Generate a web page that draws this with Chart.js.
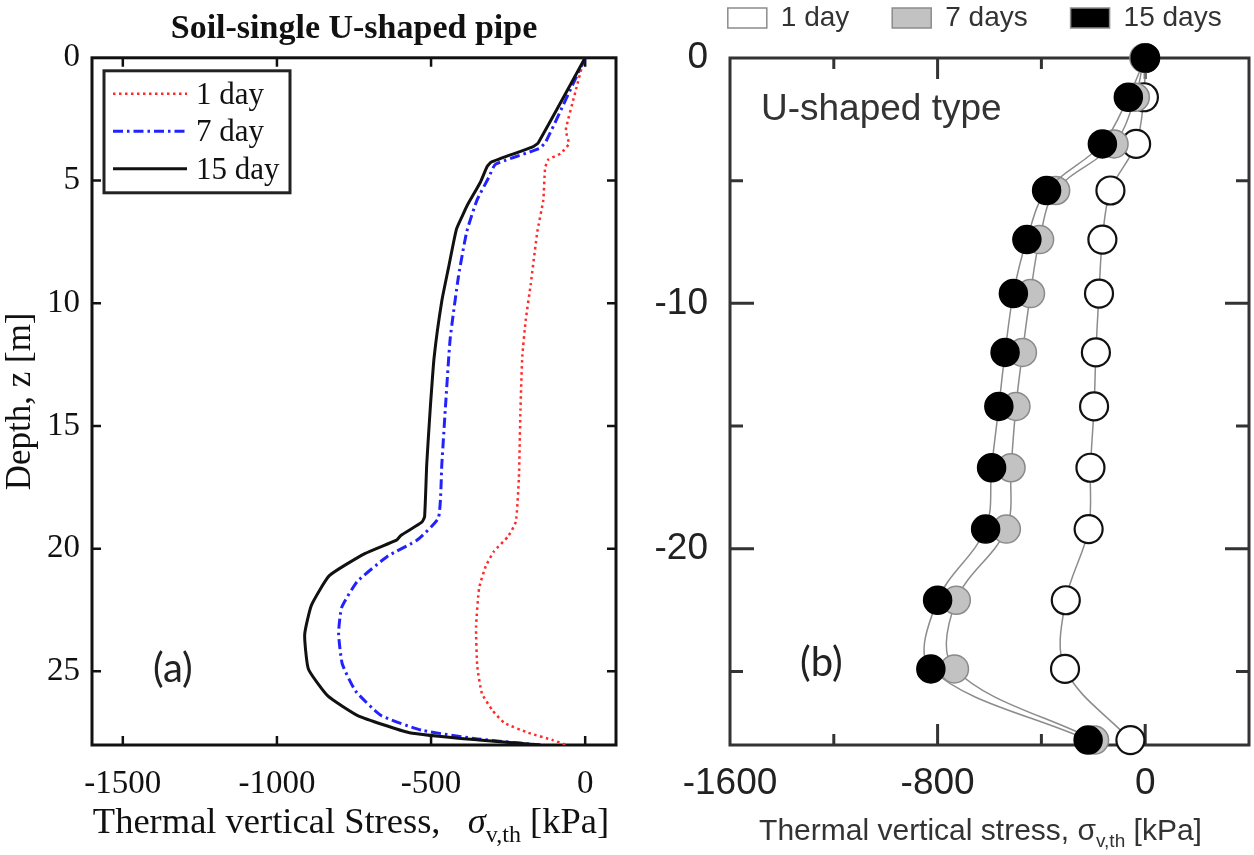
<!DOCTYPE html>
<html>
<head>
<meta charset="utf-8">
<script src="https://cdn.jsdelivr.net/npm/chart.js@4.4.1/dist/chart.umd.min.js"></script>
<style>
  html, body { margin: 0; padding: 0; background: #fff; }
  #wrapA { position: absolute; left: 0; top: 0; width: 640px; height: 855px; }
  #wrapB { position: absolute; left: 640px; top: 0; width: 614px; height: 855px; }
</style>
</head>
<body>
<div id="wrapA"><canvas id="chartA" width="640" height="855"></canvas></div>
<div id="wrapB"><canvas id="chartB" width="614" height="855"></canvas></div>
<script>
// panel (a): simulated profiles, depth [m] / stress [kPa]
const depth1A = [0, 1.4, 2.95, 3.5, 3.9, 4.15, 4.5, 5.8, 7.07, 9.26, 10.7, 12.17, 14.36, 17.1, 18.9, 19.5, 20.1, 20.7, 21.6, 23.2, 24.8, 25.9, 26.6, 27.1, 27.5, 27.8, 28.0];
const stress1A = [-3, -32, -63, -53, -80, -120, -130, -136, -155, -177, -193, -204, -210, -215, -225, -250, -295, -322, -344, -354, -350, -335, -300, -262, -185, -105, -62];
const depth7A = [0, 3.43, 3.7, 4.34, 4.88, 5.8, 7.07, 8.9, 11.45, 14.36, 16.55, 18.74, 19.65, 20.3, 21.35, 22.4, 23.45, 24.7, 25.8, 26.8, 27.4, 27.75, 28.0];
const stress7A = [0, -128, -150, -291, -313, -351, -384, -411, -438, -454, -465, -476, -545, -640, -740, -790, -800, -788, -745, -662, -530, -350, -146];
const depth15A = [0, 3.46, 3.64, 4.25, 4.43, 5.07, 6.0, 6.43, 7.0, 8.53, 9.9, 12.2, 14.36, 16.55, 18.7, 18.92, 19.46, 19.65, 20.2, 21.1, 22.3, 23.5, 24.9, 26.0, 26.8, 27.5, 27.8, 28.0];
const stress15A = [0, -152, -172, -305, -318, -340, -382, -398, -418, -443, -465, -490, -503, -514, -521, -530, -598, -612, -715, -830, -888, -910, -898, -835, -738, -570, -345, -145];
const xTicksA = [-1500, -1000, -500, 0];
const yTicksA = [0, 5, 10, 15, 20, 25];

// panel (b): measured points
const depthB = [0, -1.6, -3.5, -5.4, -7.4, -9.6, -12.0, -14.2, -16.7, -19.2, -22.1, -24.9, -27.8];
const stress1B = [0, -5, -35, -134, -165, -178, -190, -197, -211, -218, -306, -309, -57];
const stress7B = [-5, -38, -120, -345, -407, -442, -473, -498, -517, -535, -728, -735, -195];
const stress15B = [0, -65, -165, -380, -456, -508, -540, -564, -592, -615, -800, -826, -220];
const xTicksB = [-1600, -1200, -800, -400, 0];
const xLabelsB = [-1600, -800, 0];
const yTicksB = [0, -5, -10, -15, -20, -25];
const yLabelsB = [0, -10, -20];

const serif = "'Liberation Serif', 'Times New Roman', serif";
const sans = "'Liberation Sans', Arial, sans-serif";

const pts = (xs, ys) => xs.map((x, i) => ({ x: x, y: ys[i] }));

// frame round the plot area plus inward tick marks on all four sides
const frameTicks = {
  id: 'frameTicks',
  beforeDatasetsDraw(chart, args, o) {
    const { ctx, chartArea: ca, scales } = chart;
    ctx.save();
    ctx.strokeStyle = o.color;
    ctx.lineWidth = o.tickWidth;
    ctx.beginPath();
    scales.x.ticks.forEach(t => {
      const px = scales.x.getPixelForValue(t.value);
      if (px <= ca.left + 2 || px >= ca.right - 2) return;
      const len = t.label === '' ? o.minorX : o.majorX;
      ctx.moveTo(px, ca.bottom); ctx.lineTo(px, ca.bottom - len);
      ctx.moveTo(px, ca.top); ctx.lineTo(px, ca.top + len);
    });
    scales.y.ticks.forEach(t => {
      const py = scales.y.getPixelForValue(t.value);
      if (py <= ca.top + 2 || py >= ca.bottom - 2) return;
      const len = t.label === '' ? o.minorY : o.majorY;
      ctx.moveTo(ca.left, py); ctx.lineTo(ca.left + len, py);
      ctx.moveTo(ca.right, py); ctx.lineTo(ca.right - len, py);
    });
    ctx.stroke();
    ctx.lineWidth = o.frameWidth;
    ctx.strokeRect(ca.left, ca.top, ca.right - ca.left, ca.bottom - ca.top);
    ctx.restore();
  }
};

// free text: panel letters, inner label and axis titles with subscripts
const panelText = {
  id: 'panelText',
  afterDraw(chart, args, o) {
    const { ctx, chartArea: ca } = chart;
    (o.items || []).forEach(item => {
      ctx.save();
      ctx.fillStyle = item.color;
      ctx.textBaseline = 'alphabetic';
      let total = 0;
      item.runs.forEach(r => { ctx.font = r.font; r.w = ctx.measureText(r.t).width; total += r.w; });
      let x = item.center ? (ca.left + ca.right) / 2 + item.dx - total / 2 : ca.left + item.dx;
      const y = ca[item.from] + item.dy;
      item.runs.forEach(r => {
        ctx.font = r.font;
        ctx.fillText(r.t, x, y + (r.sub || 0));
        x += r.w;
      });
      ctx.restore();
    });
  }
};

// boxed legend inside the plot area of panel (a)
const boxLegend = {
  id: 'boxLegend',
  afterDatasetsDraw(chart, args, o) {
    const { ctx, chartArea: ca } = chart;
    const x0 = ca.left + o.left, y0 = ca.top + o.top;
    ctx.save();
    ctx.fillStyle = '#fff';
    ctx.fillRect(x0, y0, o.width, o.height);
    ctx.lineWidth = 3;
    ctx.strokeStyle = '#222';
    ctx.strokeRect(x0, y0, o.width, o.height);
    ctx.font = o.font;
    ctx.textBaseline = 'middle';
    chart.data.datasets.forEach((ds, i) => {
      const y = y0 + o.rowTop + i * o.rowGap;
      ctx.beginPath();
      ctx.setLineDash(ds.borderDash || []);
      ctx.strokeStyle = ds.borderColor;
      ctx.lineWidth = ds.borderWidth;
      ctx.moveTo(x0 + o.sampleX, y);
      ctx.lineTo(x0 + o.sampleX + o.sampleW, y);
      ctx.stroke();
      ctx.setLineDash([]);
      ctx.fillStyle = '#111';
      ctx.fillText(ds.label, x0 + o.textX, y + 2);
    });
    ctx.restore();
  }
};

const chartA = new Chart(document.getElementById('chartA'), {
  type: 'scatter',
  data: {
    datasets: [
      { label: '1 day', data: pts(stress1A, depth1A), borderColor: '#ff2a2a', borderWidth: 2.5, borderDash: [2.5, 3.5], order: 2 },
      { label: '7 day', data: pts(stress7A, depth7A), borderColor: '#2222ff', borderWidth: 3, borderDash: [10, 4, 2.5, 4], order: 1 },
      { label: '15 day', data: pts(stress15A, depth15A), borderColor: '#111', borderWidth: 3, order: 0 }
    ]
  },
  options: {
    responsive: false,
    animation: false,
    devicePixelRatio: 1,
    showLine: true,
    pointRadius: 0,
    tension: 0.15,
    layout: { autoPadding: false, padding: { left: 0, right: 24, top: 0, bottom: 0 } },
    plugins: {
      legend: { display: false },
      tooltip: { enabled: false },
      title: {
        display: true, text: 'Soil-single U-shaped pipe', fullSize: false, color: '#111',
        font: { family: serif, size: 34, weight: 'bold', lineHeight: 1.2 },
        padding: { top: 9, bottom: 8 }
      },
      frameTicks: { color: '#111', tickWidth: 2.5, frameWidth: 3, majorX: 9, minorX: 9, majorY: 9, minorY: 9 },
      boxLegend: {
        left: 12, top: 13, width: 186, height: 122, rowTop: 23, rowGap: 37.5,
        sampleX: 9, sampleW: 74, textX: 92, font: '31px ' + serif
      },
      panelText: {
        items: [
          { runs: [{ t: '(a)', font: '40px Lato, ' + sans }], color: '#222', from: 'top', dx: 61, dy: 624 },
          {
            center: true, from: 'bottom', dx: -3, dy: 88, color: '#111',
            runs: [
              { t: 'Thermal vertical Stress,   ', font: '36.5px ' + serif },
              { t: 'σ', font: 'italic 36.5px ' + serif },
              { t: 'v,th', font: '24px ' + serif, sub: 9 },
              { t: ' [kPa]', font: '36.5px ' + serif }
            ]
          }
        ]
      }
    },
    scales: {
      x: {
        type: 'linear', min: -1600, max: 100,
        grid: { display: false, drawTicks: false },
        border: { display: false },
        afterBuildTicks: s => { s.ticks = xTicksA.map(v => ({ value: v })); },
        afterFit: s => { s.height = 110; },
        ticks: { font: { family: serif, size: 33 }, color: '#111', padding: 20, maxRotation: 0, autoSkip: false, callback: v => String(v) }
      },
      y: {
        type: 'linear', min: 0, max: 28, reverse: true,
        grid: { display: false, drawTicks: false },
        border: { display: false },
        afterBuildTicks: s => { s.ticks = yTicksA.map(v => ({ value: v })); },
        afterFit: s => { s.width = 92; },
        title: { display: true, text: 'Depth, z [m]', color: '#111', font: { family: serif, size: 35 }, padding: { top: 0, bottom: 0 } },
        ticks: { font: { family: serif, size: 33 }, color: '#111', padding: 12, autoSkip: false, callback: v => String(v) }
      }
    }
  },
  plugins: [frameTicks, boxLegend, panelText]
});

const chartB = new Chart(document.getElementById('chartB'), {
  type: 'scatter',
  data: {
    datasets: [
      {
        label: '1 day', data: pts(stress1B, depthB), order: 2, xAxisID: 'x', yAxisID: 'y',
        backgroundColor: '#ffffff', borderColor: '#8c8c8c', borderWidth: 1.5,
        pointBackgroundColor: '#ffffff', pointBorderColor: '#111', pointBorderWidth: 2.2
      },
      {
        label: '7 days', data: pts(stress7B, depthB), order: 1, xAxisID: 'x', yAxisID: 'y',
        backgroundColor: '#c2c2c2', borderColor: '#8c8c8c', borderWidth: 1.5,
        pointBackgroundColor: '#c2c2c2', pointBorderColor: '#8a8a8a', pointBorderWidth: 1.5
      },
      {
        label: '15 days', data: pts(stress15B, depthB), order: 0, xAxisID: 'x', yAxisID: 'y',
        backgroundColor: '#000000', borderColor: '#8c8c8c', borderWidth: 1.5,
        pointBackgroundColor: '#000000', pointBorderColor: '#000', pointBorderWidth: 1.5
      }
    ]
  },
  options: {
    responsive: false,
    animation: false,
    devicePixelRatio: 1,
    showLine: true,
    pointRadius: 14,
    tension: 0.35,
    clip: false,
    layout: { autoPadding: false, padding: { left: 0, right: 5, top: 0, bottom: 0 } },
    plugins: {
      tooltip: { enabled: false },
      legend: {
        display: true, position: 'top', align: 'end',
        labels: {
          font: { family: sans, size: 28 }, color: '#333', boxWidth: 39, boxHeight: 20, padding: 4,
          sort: (a, b) => a.datasetIndex - b.datasetIndex,
          generateLabels: chart => {
            const items = Chart.defaults.plugins.legend.labels.generateLabels(chart);
            items.forEach(it => { it.text = it.text + (it.datasetIndex < 2 ? '     ' : '   '); });
            return items;
          }
        }
      },
      frameTicks: { color: '#333', tickWidth: 3, frameWidth: 3, majorX: 21, minorX: 11, majorY: 24, minorY: 13 },
      panelText: {
        items: [
          { runs: [{ t: 'U-shaped type', font: '37px ' + sans }], color: '#333', from: 'top', dx: 31, dy: 62 },
          { runs: [{ t: '(b)', font: '40px Lato, ' + sans }], color: '#222', from: 'top', dx: 70, dy: 618 },
          {
            center: true, from: 'bottom', dx: -9, dy: 95, color: '#333',
            runs: [
              { t: 'Thermal vertical stress, ', font: '30px ' + sans },
              { t: 'σ', font: '30px ' + sans },
              { t: 'v,th', font: '19px ' + sans, sub: 7 },
              { t: ' [kPa]', font: '30px ' + sans }
            ]
          }
        ]
      }
    },
    scales: {
      x: {
        type: 'linear', position: 'bottom', min: -1600, max: 400,
        grid: { display: false, drawTicks: false },
        border: { display: false },
        afterBuildTicks: s => { s.ticks = xTicksB.map(v => ({ value: v })); },
        afterFit: s => { s.height = 110; },
        ticks: {
          font: { family: sans, size: 37 }, color: '#222', padding: 17, maxRotation: 0, autoSkip: false,
          callback: v => xLabelsB.includes(v) ? String(v) : ''
        }
      },
      y: {
        type: 'linear', min: -28, max: 0,
        grid: { display: false, drawTicks: false },
        border: { display: false },
        afterBuildTicks: s => { s.ticks = yTicksB.map(v => ({ value: v })); },
        afterFit: s => { s.width = 90; },
        ticks: {
          font: { family: sans, size: 37 }, color: '#222', padding: 22, autoSkip: false,
          callback: v => yLabelsB.includes(v) ? String(v) : ''
        }
      },
      xTop: {
        type: 'linear', position: 'top', display: true, min: -1600, max: 400,
        grid: { display: false, drawTicks: false }, border: { display: false },
        ticks: { display: false },
        afterFit: s => { s.height = 16; }
      }
    }
  },
  plugins: [frameTicks, panelText]
});
</script>
</body>
</html>
